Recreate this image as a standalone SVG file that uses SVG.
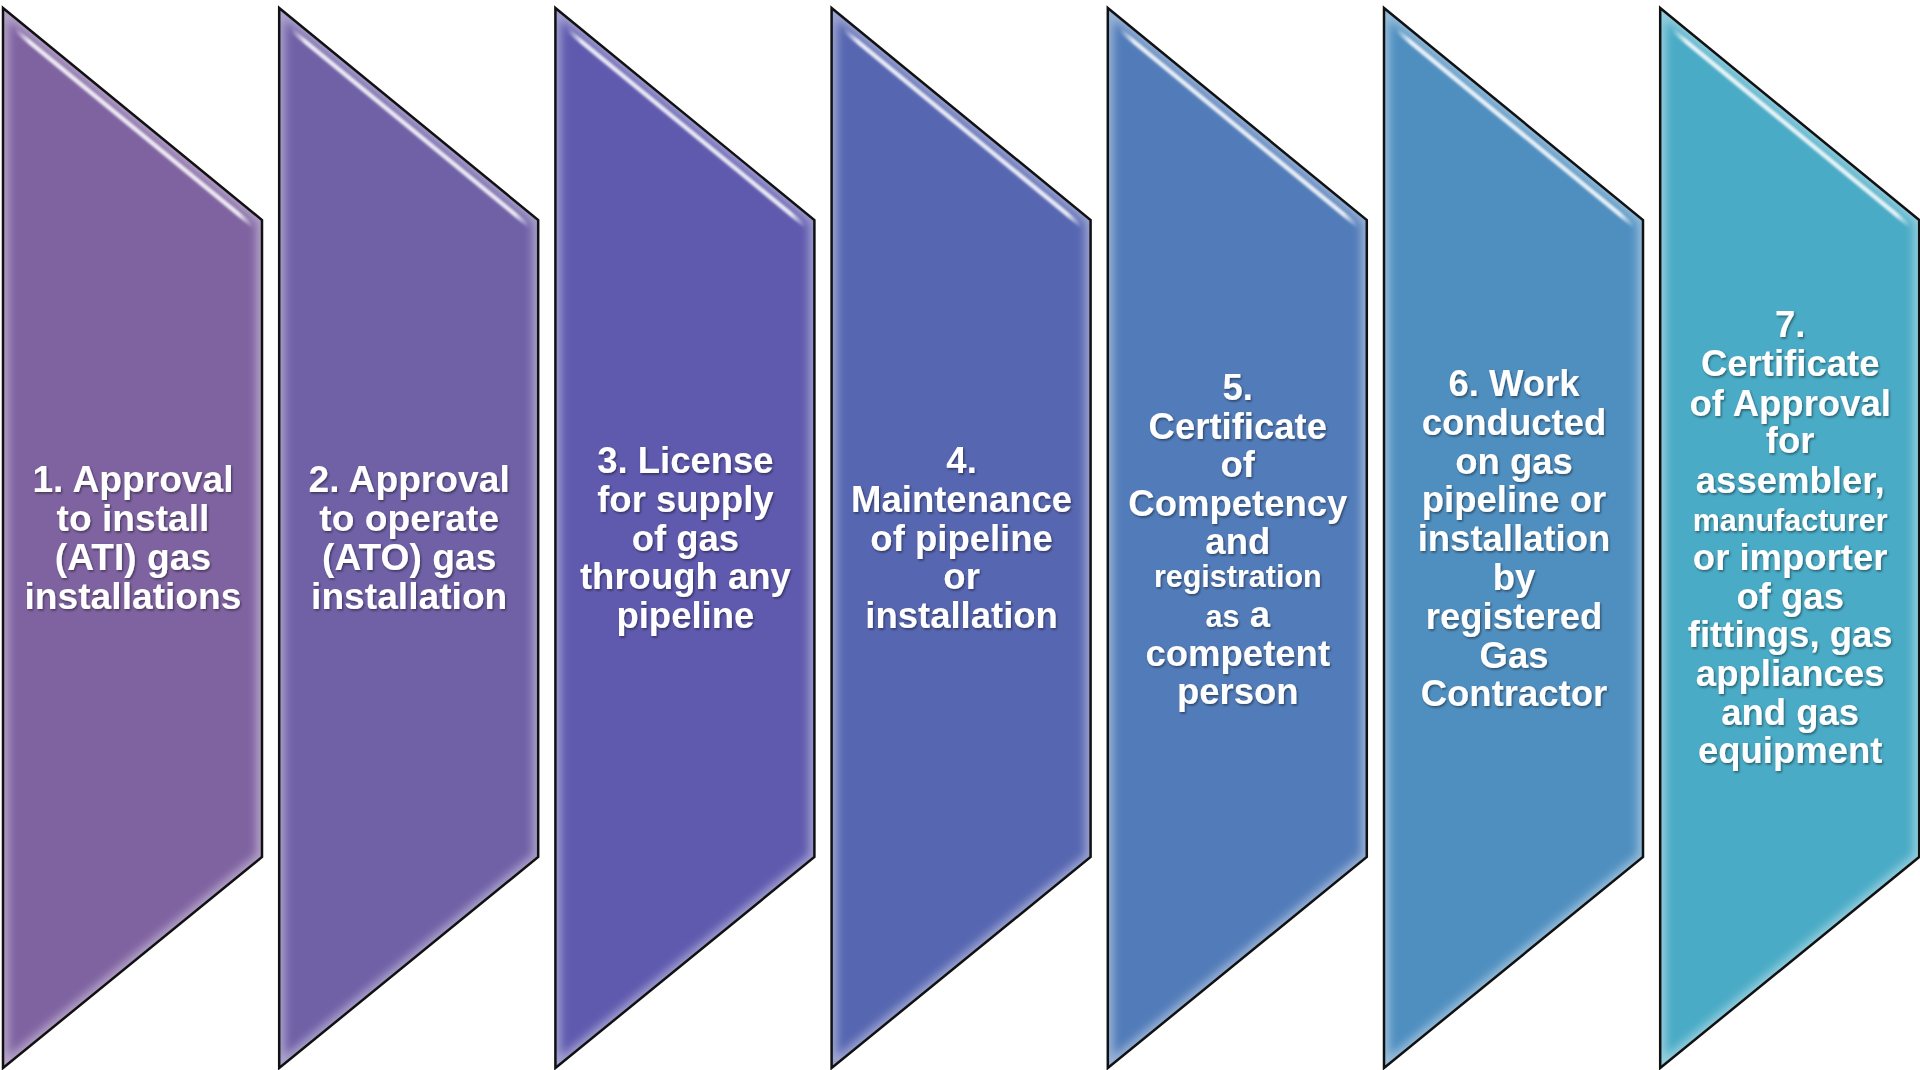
<svg xmlns="http://www.w3.org/2000/svg" xmlns:xlink="http://www.w3.org/1999/xlink" width="1920" height="1070" viewBox="0 0 1920 1070">
  <style>
    .glow { fill: none; stroke: #ffffff; stroke-opacity: 0.42; stroke-width: 11; filter: url(#blur); }
    .outline { fill: none; stroke: #111111; stroke-width: 2.5; stroke-linejoin: miter; }
    .hl { stroke: url(#hlgrad); stroke-width: 4.5; stroke-linecap: round; filter: url(#soft); }
    .lbl { font-family: "Liberation Sans", Arial, sans-serif; font-weight: bold; font-size: 36.5px; fill: #ffffff; text-anchor: middle; filter: url(#tshadow); }
    .big { font-size: 37.2px; }
    .sm { font-size: 30.5px; }
  </style>
  <defs>
    <polygon id="shape" points="0,0 259,212 259,849 0,1060"/>
    <clipPath id="clip"><use xlink:href="#shape"/></clipPath>
    <filter id="blur" x="-10%" y="-10%" width="120%" height="120%"><feGaussianBlur stdDeviation="4"/></filter>
    <filter id="soft" x="-10%" y="-10%" width="120%" height="120%"><feGaussianBlur stdDeviation="0.9"/></filter>
    <filter id="tshadow" x="-10%" y="-10%" width="120%" height="130%">
      <feDropShadow dx="1.2" dy="1.6" stdDeviation="1" flood-color="#000000" flood-opacity="0.45"/>
    </filter>
    <linearGradient id="hlgrad" x1="0" y1="0" x2="1" y2="0">
      <stop offset="0" stop-color="#ffffff" stop-opacity="0"/>
      <stop offset="0.06" stop-color="#ffffff" stop-opacity="0.85"/>
      <stop offset="0.94" stop-color="#ffffff" stop-opacity="0.85"/>
      <stop offset="1" stop-color="#ffffff" stop-opacity="0"/>
    </linearGradient>
  </defs>

  <g id="connectors"/>

  <g id="node1" transform="translate(3,8)">
    <use xlink:href="#shape" fill="#7F63A1"/>
    <g clip-path="url(#clip)"><use xlink:href="#shape" class="glow"/></g>
    <line class="hl" x1="12" y1="22" x2="250" y2="218"/>
    <use xlink:href="#shape" class="outline"/>
    <text class="lbl big" x="130"><tspan x="130" y="484">1. Approval</tspan><tspan x="130" y="523">to install</tspan><tspan x="130" y="562">(ATI) gas</tspan><tspan x="130" y="601">installations</tspan></text>
  </g>

  <g id="node2" transform="translate(279.2,8)">
    <use xlink:href="#shape" fill="#7061A7"/>
    <g clip-path="url(#clip)"><use xlink:href="#shape" class="glow"/></g>
    <line class="hl" x1="12" y1="22" x2="250" y2="218"/>
    <use xlink:href="#shape" class="outline"/>
    <text class="lbl big" x="130"><tspan x="130" y="484">2. Approval</tspan><tspan x="130" y="523">to operate</tspan><tspan x="130" y="562">(ATO) gas</tspan><tspan x="130" y="601">installation</tspan></text>
  </g>

  <g id="node3" transform="translate(555.4,8)">
    <use xlink:href="#shape" fill="#5F5AAE"/>
    <g clip-path="url(#clip)"><use xlink:href="#shape" class="glow"/></g>
    <line class="hl" x1="12" y1="22" x2="250" y2="218"/>
    <use xlink:href="#shape" class="outline"/>
    <text class="lbl" x="130"><tspan x="130" y="465">3. License</tspan><tspan x="130" y="504">for supply</tspan><tspan x="130" y="542.5">of gas</tspan><tspan x="130" y="581">through any</tspan><tspan x="130" y="620">pipeline</tspan></text>
  </g>

  <g id="node4" transform="translate(831.6,8)">
    <use xlink:href="#shape" fill="#5766B1"/>
    <g clip-path="url(#clip)"><use xlink:href="#shape" class="glow"/></g>
    <line class="hl" x1="12" y1="22" x2="250" y2="218"/>
    <use xlink:href="#shape" class="outline"/>
    <text class="lbl" x="130"><tspan x="130" y="465">4.</tspan><tspan x="130" y="504">Maintenance</tspan><tspan x="130" y="542.5">of pipeline</tspan><tspan x="130" y="581">or</tspan><tspan x="130" y="620">installation</tspan></text>
  </g>

  <g id="node5" transform="translate(1107.8,8)">
    <use xlink:href="#shape" fill="#527CB9"/>
    <g clip-path="url(#clip)"><use xlink:href="#shape" class="glow"/></g>
    <line class="hl" x1="12" y1="22" x2="250" y2="218"/>
    <use xlink:href="#shape" class="outline"/>
    <text class="lbl" x="130"><tspan x="130" y="392">5.</tspan><tspan x="130" y="431">Certificate</tspan><tspan x="130" y="469">of</tspan><tspan x="130" y="508">Competency</tspan><tspan x="130" y="546">and</tspan><tspan class="sm" x="130" y="579">registration</tspan><tspan x="130" y="619"><tspan class="sm">as</tspan> a</tspan><tspan x="130" y="658">competent</tspan><tspan x="130" y="696">person</tspan></text>
  </g>

  <g id="node6" transform="translate(1384,8)">
    <use xlink:href="#shape" fill="#4F8FC0"/>
    <g clip-path="url(#clip)"><use xlink:href="#shape" class="glow"/></g>
    <line class="hl" x1="12" y1="22" x2="250" y2="218"/>
    <use xlink:href="#shape" class="outline"/>
    <text class="lbl" x="130"><tspan x="130" y="388">6. Work</tspan><tspan x="130" y="427">conducted</tspan><tspan x="130" y="466">on gas</tspan><tspan x="130" y="504">pipeline or</tspan><tspan x="130" y="543">installation</tspan><tspan x="130" y="582">by</tspan><tspan x="130" y="621">registered</tspan><tspan x="130" y="660">Gas</tspan><tspan x="130" y="698">Contractor</tspan></text>
  </g>

  <g id="node7" transform="translate(1660.2,8)">
    <use xlink:href="#shape" fill="#4AABC6"/>
    <g clip-path="url(#clip)"><use xlink:href="#shape" class="glow"/></g>
    <line class="hl" x1="12" y1="22" x2="250" y2="218"/>
    <use xlink:href="#shape" class="outline"/>
    <text class="lbl" x="130"><tspan x="130" y="329">7.</tspan><tspan x="130" y="368">Certificate</tspan><tspan x="130" y="407.5">of Approval</tspan><tspan x="130" y="445">for</tspan><tspan x="130" y="484.5">assembler,</tspan><tspan class="sm" x="130" y="523">manufacturer</tspan><tspan x="130" y="562">or importer</tspan><tspan x="130" y="601">of gas</tspan><tspan x="130" y="639">fittings, gas</tspan><tspan x="130" y="678">appliances</tspan><tspan x="130" y="717">and gas</tspan><tspan x="130" y="755">equipment</tspan></text>
  </g>
</svg>
